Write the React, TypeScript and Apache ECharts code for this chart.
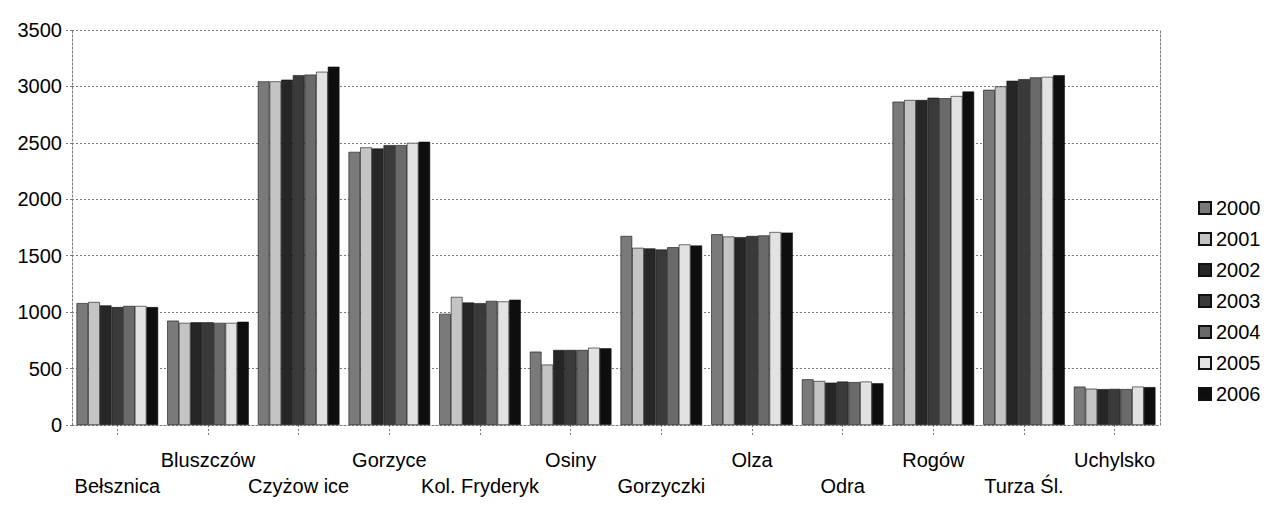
import React, { useEffect, useRef } from "react";
import * as echarts from "echarts";

const categories = [
  "Bełsznica", "Bluszczów", "Czyżow ice", "Gorzyce", "Kol. Fryderyk", "Osiny",
  "Gorzyczki", "Olza", "Odra", "Rogów", "Turza Śl.", "Uchylsko",
];
const years = ["2000", "2001", "2002", "2003", "2004", "2005", "2006"];
const y2000 = [1080, 925, 3045, 2420, 985, 650, 1675, 1690, 405, 2865, 2970, 340];
const y2001 = [1090, 905, 3045, 2460, 1135, 535, 1570, 1670, 390, 2880, 3000, 322];
const y2002 = [1060, 910, 3060, 2450, 1085, 665, 1565, 1665, 375, 2880, 3050, 318];
const y2003 = [1045, 910, 3100, 2480, 1080, 665, 1555, 1675, 385, 2900, 3065, 320];
const y2004 = [1055, 905, 3105, 2480, 1100, 665, 1575, 1680, 380, 2895, 3080, 318];
const y2005 = [1055, 905, 3130, 2500, 1095, 685, 1600, 1710, 385, 2915, 3085, 340];
const y2006 = [1045, 915, 3175, 2510, 1110, 680, 1590, 1705, 370, 2955, 3100, 336];
const seriesValues = [y2000, y2001, y2002, y2003, y2004, y2005, y2006];
const colors = ["#7a7a7a", "#c4c4c4", "#262626", "#3a3a3a", "#6a6a6a", "#e2e2e2", "#0e0e0e"];

const FONT = '"Liberation Sans", Arial, sans-serif';

export default function App() {
  const ref = useRef<HTMLDivElement>(null);
  useEffect(() => {
    if (!ref.current) return;
    const chart = echarts.init(ref.current, null, { renderer: "svg" });
    const dotted = { color: "#777", width: 1, type: [2, 2] as any };
    chart.setOption({
      animation: false,
      backgroundColor: "#ffffff",
      textStyle: { fontFamily: FONT, color: "#000" },
      grid: { left: 72, right: 110, top: 30, bottom: 97, containLabel: false },
      legend: {
        orient: "vertical",
        left: 1193,
        top: 193,
        itemWidth: 12,
        itemHeight: 12,
        itemGap: 11,
        icon: "rect",
        textStyle: { fontSize: 20, color: "#000", fontFamily: FONT, lineHeight: 20 },
        data: years,
      },
      xAxis: {
        type: "category",
        data: categories,
        axisLine: { show: true, lineStyle: dotted },
        axisTick: { show: true, length: 12, alignWithLabel: true, lineStyle: dotted },
        axisLabel: {
          interval: 0,
          fontSize: 20,
          color: "#000",
          fontFamily: FONT,
          margin: 22,
          lineHeight: 26,
          formatter: (v: string, i: number) => (i % 2 === 0 ? "\n" + v : v),
        },
      },
      yAxis: [
        {
          type: "value",
          min: 0,
          max: 3500,
          interval: 500,
          axisLine: { show: true, lineStyle: dotted },
          axisTick: { show: true, length: 8, lineStyle: dotted },
          axisLabel: {
            fontSize: 20,
            color: "#000",
            fontFamily: FONT,
            margin: 10,
            formatter: (v: number) => String(v),
          },
          splitLine: { show: true, lineStyle: dotted },
        },
        {
          type: "value",
          position: "right",
          min: 0,
          max: 3500,
          interval: 500,
          axisLine: { show: true, lineStyle: dotted },
          axisTick: { show: false },
          axisLabel: { show: false },
          splitLine: { show: false },
        },
      ],
      series: years.map((y, i) => ({
        name: y,
        type: "bar",
        yAxisIndex: 0,
        data: seriesValues[i],
        barGap: "0%",
        barCategoryGap: "10%",
        itemStyle: { color: colors[i], borderColor: "#111", borderWidth: 0.6 },
      })),
    });
    return () => chart.dispose();
  }, []);
  return (
    <div
      ref={ref}
      style={{ position: "fixed", left: 0, top: 0, width: 1270, height: 522, background: "#fff" }}
    />
  );
}
